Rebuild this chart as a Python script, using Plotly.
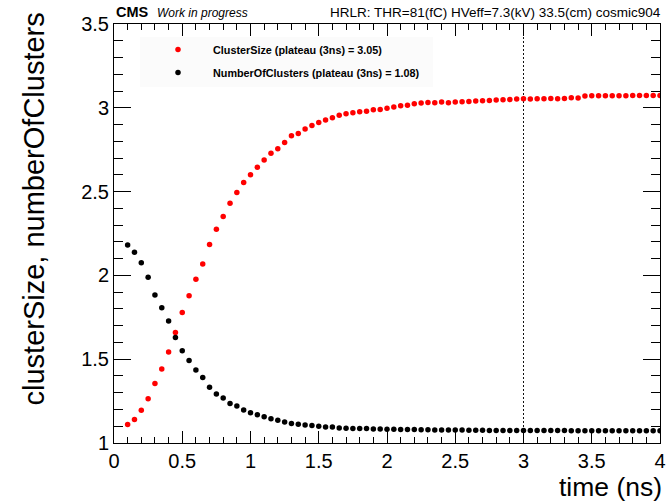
import plotly.graph_objects as go

# ---------------- data ----------------
time_ns = [round(0.10 + 0.05 * i, 2) for i in range(79)]  # 0.10 ... 4.00

cluster_size = [
    1.111, 1.140, 1.196, 1.264, 1.355, 1.441, 1.543, 1.660, 1.778, 1.879,
    1.977, 2.068, 2.184, 2.275, 2.351, 2.431, 2.495, 2.554, 2.600, 2.646,
    2.688, 2.729, 2.755, 2.793, 2.833, 2.847, 2.873, 2.895, 2.913, 2.927,
    2.940, 2.955, 2.965, 2.970, 2.976, 2.980, 2.988, 2.990, 2.998, 3.005,
    3.012, 3.015, 3.024, 3.028, 3.032, 3.030, 3.034, 3.030, 3.034, 3.036,
    3.038, 3.040, 3.042, 3.044, 3.046, 3.048, 3.050, 3.052, 3.054, 3.052,
    3.054, 3.054, 3.056, 3.054, 3.056, 3.060, 3.058, 3.070, 3.072, 3.072,
    3.072, 3.072, 3.072, 3.072, 3.073, 3.073, 3.073, 3.073, 3.073,
]

number_of_clusters = [
    2.182, 2.138, 2.075, 1.989, 1.883, 1.807, 1.728, 1.630, 1.550, 1.492,
    1.435, 1.391, 1.333, 1.293, 1.269, 1.235, 1.221, 1.197, 1.181, 1.169,
    1.157, 1.145, 1.136, 1.126, 1.116, 1.112, 1.108, 1.104, 1.100, 1.096,
    1.096, 1.090, 1.088, 1.087, 1.086, 1.086, 1.084, 1.083, 1.082, 1.082,
    1.081, 1.080, 1.080, 1.079, 1.079, 1.078, 1.078, 1.077, 1.077, 1.077,
    1.076, 1.076, 1.076, 1.075, 1.075, 1.075, 1.074, 1.074, 1.074, 1.074,
    1.074, 1.074, 1.074, 1.074, 1.074, 1.073, 1.073, 1.073, 1.073, 1.073,
    1.073, 1.073, 1.073, 1.073, 1.073, 1.073, 1.073, 1.073, 1.073,
]

series_names = [
    "ClusterSize (plateau (3ns) = 3.05)",
    "NumberOfClusters (plateau (3ns) = 1.08)",
]
plateau_time = 3.0
x_tick_vals = [0, 0.5, 1, 1.5, 2, 2.5, 3, 3.5, 4]
x_tick_text = ["0", "0.5", "1", "1.5", "2", "2.5", "3", "3.5", "4"]
y_tick_vals = [1, 1.5, 2, 2.5, 3, 3.5]
y_tick_text = ["1", "1.5", "2", "2.5", "3", "3.5"]

header_left_bold = "CMS"
header_left_italic = "Work in progress"
header_right = "HRLR: THR=81(fC) HVeff=7.3(kV) 33.5(cm) cosmic904"
x_title = "time (ns)"
y_title = "clusterSize, numberOfClusters"

# ---------------- figure ----------------
FONT = "Liberation Sans, Arial, Helvetica, sans-serif"
W, H = 667, 502
ML, MR, MT, MB = 114, 7, 24, 59
PW, PH = W - ML - MR, H - MT - MB


def px_x(p):
    return (p - ML) / PW


def px_y(p):
    return 1 - (p - MT) / PH


fig = go.Figure()
fig.add_trace(go.Scatter(
    x=time_ns, y=cluster_size, mode="markers", name=series_names[0],
    legendgroup="a",
    marker=dict(color="#ff0000", size=5.5, line=dict(width=0)),
))
fig.add_trace(go.Scatter(
    x=time_ns, y=number_of_clusters, mode="markers", name=series_names[1],
    legendgroup="b",
    marker=dict(color="#000000", size=5.5, line=dict(width=0)),
))

fig.add_shape(type="line", xref="x", yref="paper", x0=plateau_time, x1=plateau_time,
              y0=0, y1=1, line=dict(color="#111111", width=1, dash="2px,2px"), layer="below")

# faint legend box
fig.add_shape(type="rect", xref="paper", yref="paper",
              x0=px_x(140), x1=px_x(433), y0=px_y(87), y1=px_y(37),
              fillcolor="#fbfbfb", line=dict(width=0), layer="below")

axis_common = dict(
    showline=True, linecolor="black", linewidth=1, mirror="ticks",
    ticks="inside", tickcolor="black", tickwidth=1,
    showgrid=False, zeroline=False, automargin=False,
    tickfont=dict(family=FONT, size=20, color="black"),
)

fig.update_xaxes(
    range=[0, 4], tickvals=x_tick_vals, ticktext=x_tick_text, ticklen=12,
    minor=dict(dtick=0.1, ticklen=6, ticks="inside", tickcolor="black", showgrid=False),
    **axis_common,
)
fig.update_yaxes(
    range=[1, 3.5], tickvals=y_tick_vals, ticktext=y_tick_text, ticklen=17,
    minor=dict(dtick=0.1, ticklen=9, ticks="inside", tickcolor="black", showgrid=False),
    **axis_common,
)

annotations = [
    dict(text="<b>" + header_left_bold + "</b>", x=px_x(114), y=px_y(12), xanchor="left",
         yanchor="middle", font=dict(family=FONT, size=14.5, color="black")),
    dict(text="<i>" + header_left_italic + "</i>", x=px_x(155), y=px_y(12.5), xanchor="left",
         yanchor="middle", font=dict(family=FONT, size=12, color="black")),
    dict(text=header_right, x=px_x(663), y=px_y(12), xanchor="right",
         yanchor="middle", font=dict(family=FONT, size=13.5, color="black")),
    dict(text=x_title, x=px_x(664), y=px_y(487), xanchor="right",
         yanchor="middle", font=dict(family=FONT, size=26.5, color="black")),
    dict(text=y_title, x=px_x(34), y=px_y(11), xanchor="center",
         yanchor="top", textangle=-90, font=dict(family=FONT, size=29, color="black")),
]
for a in annotations:
    a.update(xref="paper", yref="paper", showarrow=False)

fig.update_layout(
    width=W, height=H,
    margin=dict(l=ML, r=MR, t=MT, b=MB, pad=0, autoexpand=False),
    paper_bgcolor="white", plot_bgcolor="white",
    annotations=annotations,
    showlegend=True,
    legend=dict(
        x=px_x(143), y=px_y(35), xanchor="left", yanchor="top",
        bgcolor="rgba(0,0,0,0)", borderwidth=0,
        font=dict(family=FONT, size=10.8, color="black", weight="bold"),
        itemwidth=60, tracegroupgap=4,
    ),
)

fig.write_html("out.html")
